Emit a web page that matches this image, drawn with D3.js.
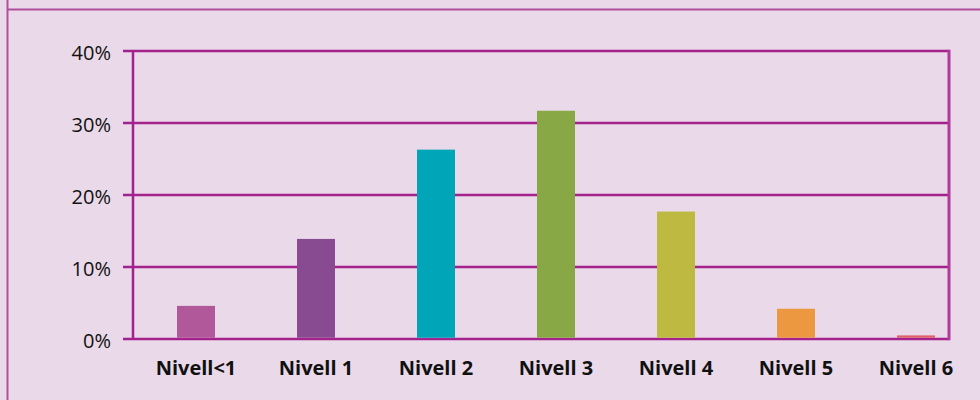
<!DOCTYPE html>
<html>
<head>
<meta charset="utf-8">
<script src="https://cdn.jsdelivr.net/npm/d3@7"></script>
<style>
  html, body { margin: 0; padding: 0; background: #ead9e9; }
  svg { display: block; }
</style>
</head>
<body>
<svg id="chart" width="980" height="400"></svg>
<script>
// data
const levels = ["Nivell<1", "Nivell 1", "Nivell 2", "Nivell 3", "Nivell 4", "Nivell 5", "Nivell 6"];
const shares = [4.6, 13.9, 26.3, 31.7, 17.7, 4.2, 0.5];
const barColors = ["#b0589a", "#884a91", "#00a6b8", "#88a846", "#beb940", "#ec9841", "#e0606a"];
const yTicks = [0, 10, 20, 30, 40];

const svg = d3.select("#chart");
const purple = "#a3228c";

// outer frame (cropped box)
svg.append("rect")
  .attr("x", 0).attr("y", 0).attr("width", 980).attr("height", 400)
  .attr("fill", "#ead9e9");
svg.append("path")
  .attr("d", "M 7.5 0 V 400 M 7.5 9.5 H 980")
  .attr("fill", "none")
  .attr("stroke", "#b04f9e")
  .attr("stroke-width", 2);

const plot = { left: 133, right: 949, top: 51, bottom: 339 };

const y = d3.scaleLinear().domain([0, 40]).range([plot.bottom, plot.top]);
const x = d3.scalePoint().domain(levels).range([196, 916]);
const barW = 38;

// grid lines + ticks
svg.append("g")
  .selectAll("line")
  .data(yTicks)
  .join("line")
  .attr("x1", plot.left - 10)
  .attr("x2", plot.right)
  .attr("y1", d => y(d))
  .attr("y2", d => y(d))
  .attr("stroke", purple)
  .attr("stroke-width", 2.5);

// left axis + right border
svg.append("line")
  .attr("x1", plot.left).attr("x2", plot.left)
  .attr("y1", plot.top).attr("y2", plot.bottom)
  .attr("stroke", purple).attr("stroke-width", 2.5);
svg.append("line")
  .attr("x1", plot.right).attr("x2", plot.right)
  .attr("y1", plot.top - 1.25).attr("y2", plot.bottom + 1.25)
  .attr("stroke", "#b03a9c").attr("stroke-width", 3);

// tick labels
svg.append("g")
  .selectAll("text")
  .data(yTicks)
  .join("text")
  .attr("x", 111)
  .attr("y", d => y(d))
  .attr("dy", "0.45em")
  .attr("text-anchor", "end")
  .attr("font-family", "'Open Sans', sans-serif")
  .attr("font-size", 20)
  .attr("fill", "#111")
  .text(d => d + "%");

// bars
svg.append("g")
  .selectAll("rect")
  .data(levels)
  .join("rect")
  .attr("x", d => x(d) - barW / 2)
  .attr("width", barW)
  .attr("y", (d, i) => y(shares[i]))
  .attr("height", (d, i) => y(0) - y(shares[i]) - 1.25)
  .attr("fill", (d, i) => barColors[i]);

// category labels
svg.append("g")
  .selectAll("text")
  .data(levels)
  .join("text")
  .attr("x", d => x(d))
  .attr("y", 375)
  .attr("text-anchor", "middle")
  .attr("font-family", "'Open Sans', sans-serif")
  .attr("font-weight", "bold")
  .attr("font-size", 20)
  .attr("fill", "#111")
  .text(d => d);
</script>
</body>
</html>
